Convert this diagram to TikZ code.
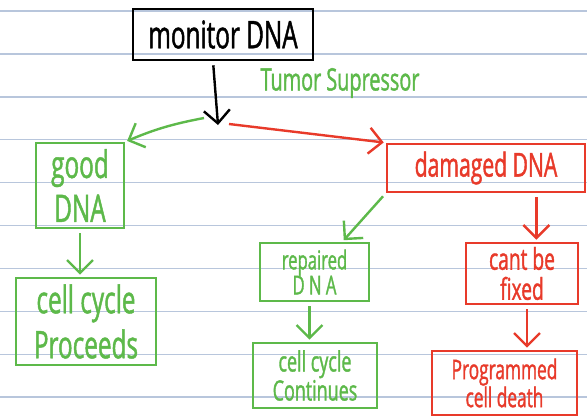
\documentclass[tikz,border=0pt]{standalone}
\usepackage{fontspec}
\setmainfont{Open Sans}[FakeStretch=0.64, FakeBold=1.2]
\usepackage{tikz}
\usetikzlibrary{positioning,arrows.meta,calc}
\definecolor{pgreen}{RGB}{93,185,74}
\definecolor{pred}{RGB}{232,58,42}
\definecolor{pline}{RGB}{184,198,220}
\tikzstyle{block} = [rectangle, draw, line width=2.6pt, inner sep=0pt, align=center]
\tikzstyle{arrow} = [line width=2.4pt, -{Straight Barb[length=13pt,width=26pt,line width=2.4pt]}, shorten <=4pt, shorten >=2pt]
\tikzstyle{garrow} = [arrow, draw=pgreen]
\tikzstyle{rarrow} = [arrow, draw=pred]

\begin{document}
\begin{tikzpicture}[x=1pt, y=1pt, node distance = 105pt]
		\useasboundingbox[fill=white] (0,0) rectangle (587,-418);
		% ruled paper
		\foreach \k in {0,...,9}
			\draw[pline, line width=1.4pt] (0,-11-42.9*\k) -- (587,-11-42.9*\k);
		\node[block, minimum width=180pt, minimum height=51pt, font=\fontsize{38}{40}\selectfont] (mon) at (223,-34.5) {monitor DNA};
		\node[block, draw=pgreen, text=pgreen, minimum width=88pt, minimum height=85pt, below of=mon, xshift=-143pt, yshift=-46pt, font=\fontsize{38}{44}\selectfont] (good) {good\\DNA};
		\node[block, draw=pred, text=pred, minimum width=198pt, minimum height=48pt, below of=mon, xshift=263pt, yshift=-28.5pt, font=\fontsize{33}{36}\selectfont] (dam) {damaged DNA};
		\node[block, draw=pgreen, text=pgreen, minimum width=140pt, minimum height=87pt, below of=good, xshift=6pt, yshift=-31pt, font=\fontsize{38}{45}\selectfont] (proc) {cell cycle\\Proceeds};
		\node[block, draw=pgreen, text=pgreen, minimum width=109pt, minimum height=58pt, below of=dam, xshift=-171.5pt, yshift=1pt, font=\fontsize{26}{25}\selectfont] (rep) {repaired\\D N A};
		\node[block, draw=pred, text=pred, minimum width=112pt, minimum height=61pt, below of=dam, xshift=36pt, yshift=-0.5pt, font=\fontsize{30}{30}\selectfont] (fix) {cant be\\fixed};
		\node[block, draw=pgreen, text=pgreen, minimum width=124pt, minimum height=65pt, below of=rep, xshift=0.5pt, yshift=1.5pt, font=\fontsize{28}{29}\selectfont] (cont) {cell cycle\\Continues};
		\node[block, draw=pred, text=pred, minimum width=145pt, minimum height=64pt, below of=fix, xshift=-17.5pt, yshift=-4.5pt, font=\fontsize{27}{25}\selectfont] (death) {Programmed\\cell death};
		\node[text=pgreen, font=\fontsize{31}{30}\selectfont] (tsup) at (340,-83) {Tumor Supressor};
		\coordinate (tip) at (218,-125);
		\coordinate (gsplit) at (204,-118);
		\coordinate (rsplit) at (229,-124);
		\coordinate (repin) at ($(rep.north)!0.5!(rep.north east)$);
		\coordinate (fixin) at ($(fix.north)!0.25!(fix.north east)$);
		\draw[arrow, shorten >=0pt] ([xshift=-10pt]mon.south) -- (tip);
		\draw[garrow, shorten <=0pt] (gsplit) to[bend right=6] (good.north east);
		\draw[rarrow, shorten <=0pt] (rsplit) -- (dam.north west);
		\draw[garrow] (good.south) -- (good.south |- proc.north);
		\draw[garrow] (dam.south west) -- (repin);
		\draw[rarrow] (dam.south -| fixin) -- (fixin);
		\draw[garrow] ([xshift=-5pt]rep.south) -- ([xshift=-5pt]rep.south |- cont.north);
		\draw[rarrow] ([xshift=5pt]fix.south) -- ([xshift=5pt]fix.south |- death.north);
	\end{tikzpicture}
\end{document}
